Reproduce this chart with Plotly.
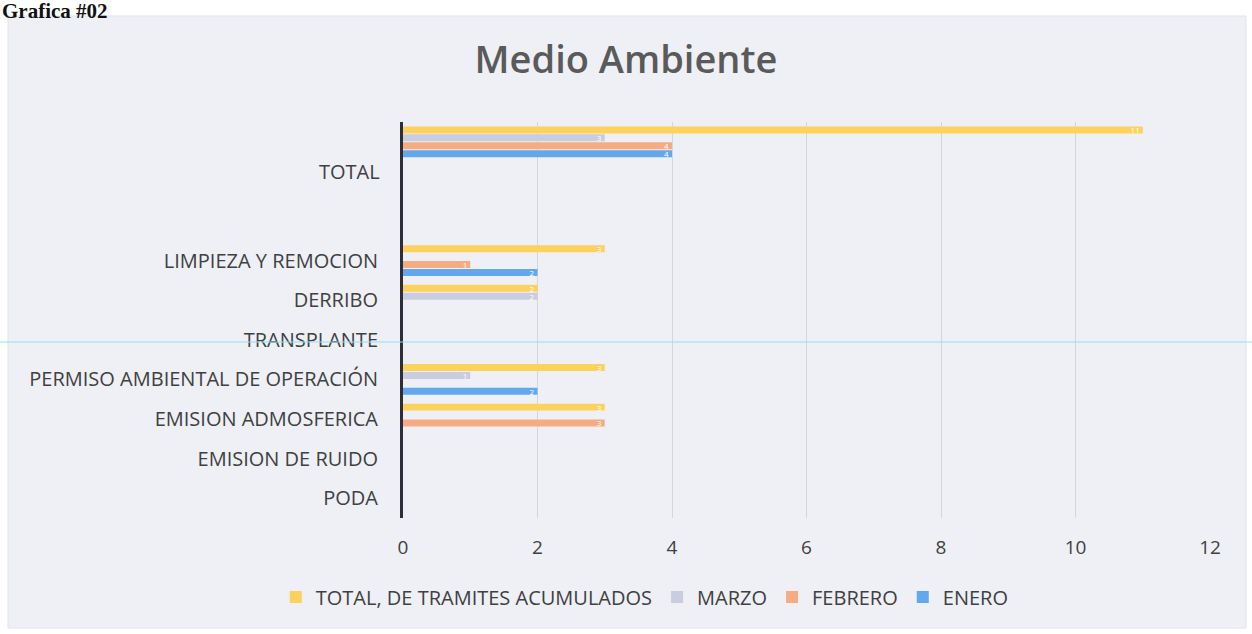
import plotly.graph_objects as go

# Categories, bottom to top (two blank spacer categories below TOTAL)
categories = ["PODA", "EMISION DE RUIDO", "EMISION ADMOSFERICA",
              "PERMISO AMBIENTAL DE OPERACIÓN", "TRANSPLANTE", "DERRIBO",
              "LIMPIEZA Y REMOCION", " ", "  ", "TOTAL"]

enero   = [None, None, None, 2, None, None, 2, None, None, 4]
febrero = [None, None, 3, None, None, None, 1, None, None, 4]
marzo   = [None, None, None, 1, None, 2, None, None, None, 3]
total   = [None, None, 3, 3, None, 2, 3, None, None, 11]

series_names = ["ENERO", "FEBRERO", "MARZO", "TOTAL, DE TRAMITES ACUMULADOS"]
series_values = [enero, febrero, marzo, total]
colors = ["#63A7EC", "#F5AC80", "#C9CDDD", "#FDD25C"]

x_ticks = [0, 2, 4, 6, 8, 10, 12]

fig = go.Figure()
for name, vals, col in zip(series_names, series_values, colors):
    fig.add_trace(go.Bar(
        y=categories, x=vals, name=name, orientation="h",
        marker=dict(color=col, line=dict(width=0)),
        text=[("" if v is None else str(v)) for v in vals],
        textposition="inside", insidetextanchor="end",
        constraintext="none", textangle=0,
        textfont=dict(color="white", size=8, family="Open Sans"),
        cliponaxis=False,
    ))

# plot area px: left 403, right 1210, top 122, bottom 518
def px_x(px):
    return (px - 403) / 807.0

def px_y(py):
    return (518 - py) / 396.0

shapes = [
    dict(type="rect", xref="paper", yref="paper",
         x0=px_x(8), x1=px_x(1246), y0=px_y(628), y1=px_y(16),
         fillcolor="#EEF0F6", line=dict(color="#E2E4EC", width=1), layer="below"),
    dict(type="line", xref="paper", yref="paper",
         x0=px_x(0), x1=px_x(1252), y0=px_y(342), y1=px_y(342),
         line=dict(color="#8FE3F2", width=1), layer="above"),
]

tick_text = [c if c != "TOTAL" else "" for c in categories]

annotations = [
    dict(text="<b>Grafica #02</b>", xref="paper", yref="paper",
         x=px_x(0), y=px_y(11), xanchor="left", yanchor="middle",
         showarrow=False, font=dict(family="Liberation Serif", size=21, color="#111111")),
    dict(text="TOTAL", xref="paper", yref="paper",
         x=px_x(382), y=px_y(171), xanchor="right", yanchor="middle",
         showarrow=False, font=dict(family="Open Sans", size=20, color="#404040")),
]

fig.update_layout(
    width=1252, height=634,
    margin=dict(l=403, r=42, t=122, b=116),
    paper_bgcolor="white",
    plot_bgcolor="rgba(0,0,0,0)",
    barmode="group", bargap=0.2, bargroupgap=0.12,
    title=dict(text="Medio Ambiente", x=0.5, xanchor="center",
               y=1 - 60 / 634, yanchor="middle",
               font=dict(family="Open Sans", size=38, color="#5A5A5A", weight=600)),
    xaxis=dict(range=[0, 12], tickvals=x_ticks, showgrid=True,
               gridcolor="#D4D6DC", gridwidth=1, zeroline=False, showline=False,
               ticklabelstandoff=16,
               tickfont=dict(family="Open Sans", size=19, color="#404040")),
    yaxis=dict(categoryorder="array", categoryarray=categories,
               tickvals=categories, ticktext=tick_text,
               showgrid=False, zeroline=False, showline=True,
               linecolor="#2E2E38", linewidth=3, ticklabelstandoff=18,
               tickfont=dict(family="Open Sans", size=20, color="#404040")),
    legend=dict(orientation="h", traceorder="reversed",
                xref="container", yref="container",
                x=0.515, xanchor="center", y=1 - 597 / 634, yanchor="middle",
                font=dict(family="Open Sans", size=20, color="#404040"),
                bgcolor="rgba(0,0,0,0)", itemwidth=30),
    shapes=shapes,
    annotations=annotations,
    showlegend=True,
)

fig.write_html("out.html", config={"displayModeBar": False},
               post_script="document.body.style.margin='0';document.body.style.overflow='hidden';")
